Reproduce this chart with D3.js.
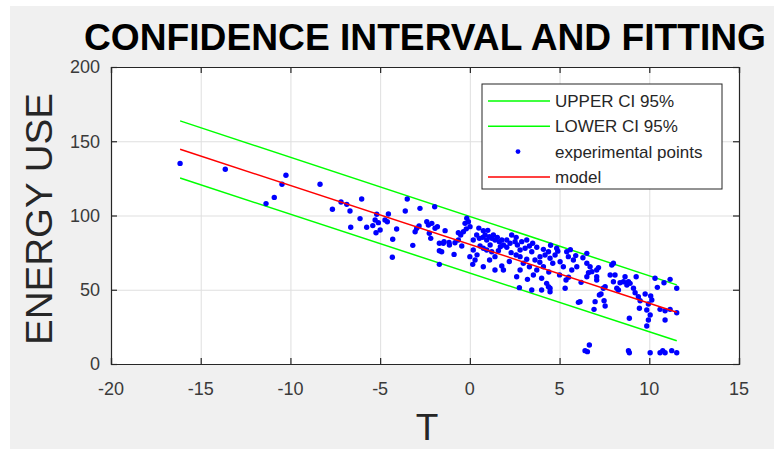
<!DOCTYPE html>
<html>
<head>
<meta charset="utf-8">
<script src="https://cdnjs.cloudflare.com/ajax/libs/d3/7.8.5/d3.min.js"></script>
<style>
  html, body { margin: 0; padding: 0; background: #ffffff; }
  svg { display: block; font-family: "Liberation Sans", Arial, sans-serif; }
</style>
</head>
<body>
<svg id="chart" width="774" height="449"></svg>
<script>
// ---- data ----
var tempT = [
  -16.15, -13.63, -10.25, -10.47, -10.9, -11.36, -8.35,
  -7.18, -6.86, -6.03, -7.66, -6.68, -6.12, -6.64, -5.75, -5.41, -5.19, -5.28, -5.1, -4.73,
  -4.54, -4.6, -5.0, -5.23, -4.08, -4.3, -4.32, -3.49, -3.6, -2.78, -1.96, -3.18, -3.05,
  -2.96, -2.83, -2.4, -2.31, -2.12, -1.94, -1.81, -2.26, -2.18, -1.38, -1.7, -1.48, -1.7,
  -1.16, -0.88, -1.7, -0.64, -0.64,
  -0.17, -0.08, -0.27, -0.36, -0.51, -0.83, -1.14, -1.44, -1.57, -0.45, 0.0, 0.19, 0.19,
  0.38, 0.53, 0.72, 0.85, 0.94, 1.09, 1.22, 1.31, 1.4, 1.53, 1.64, 1.78, 1.87, 1.13, 0.94,
  0.75, 0.57, 1.22, 1.4, 1.59, 2.06, 2.24, 2.52, 2.65, 2.89, 3.17, 2.8, 2.58, 3.08, 3.32,
  3.45, 3.73, 2.8, 3.17, 2.98, 3.32, 3.63, 3.91, 4.1, 4.19, 4.38, 4.47, 4.75, 4.84, 4.62,
  4.1, 3.73, 3.54, 3.21, 2.8, 2.61, 1.87, 1.78, 1.4, 0.75, 0.16, 0.29, 4.0, 4.28, 4.47,
  4.47, 2.76, 5.31, 5.4, 5.49, 5.03, 5.21, 5.77, 5.96, 5.68, 6.52, 6.52, 6.7, 6.8, 7.07,
  7.07, 0.01, 0.75,
  8.0, 7.91, 7.17, 6.61, 6.52, 7.07, 7.82, 8.09, 8.0, 8.37, 8.65, 8.56, 8.84, 8.75, 9.27,
  8.93, 9.12, 9.21, 7.54, 7.44, 8.19, 8.28, 7.31, 6.98, 7.48, 7.54, 6.92, 6.14, 9.39, 9.49,
  9.45, 9.77, 10.08, 10.14, 9.95, 9.86, 10.05, 9.95, 9.86, 8.89, 10.32, 10.45, 10.82, 11.16,
  11.53, 10.6, 10.88, 11.16, 11.53, 10.88, 6.42, 6.66, 6.55, 8.84, 8.89, 10.05, 10.6, 10.75,
  10.88, 11.25, 11.53,
  3.45, 4.0, 4.38, 5.36, 6.05, 7.22,
  2.33, 2.58, 2.06, 3.5, 4.5, 4.9, 5.6, 5.9, 6.3, 1.0, 0.5, -0.2, 1.7, 2.3, 3.9,
  4.4, 5.0, 5.5, 6.2, 2.2, 1.1, 0.4
];
var energyUse = [
  135.1, 131.1, 127.1, 121, 112.2, 108, 121,
  109.1, 107.5, 111.1, 104.2, 103, 97.9, 92.1, 92.1, 93.2, 100.8, 97, 95.2, 97,
  101, 95.8, 90.2, 88.4, 90.9, 84, 71.9, 111.1, 103, 104.8, 105.9, 79.9, 89.1,
  91.4, 92.9, 95.8, 93.6, 94.7, 91.4, 92.5, 88, 84.6, 89.8, 81.3, 81.3, 76.3,
  81.9, 73.8, 67.1, 83.5, 88.4,
  98.1, 95.8, 94.7, 89.1, 86.9, 81.7, 80.1, 82.4, 75.6, 79.5, 72.3, 76.8, 83.5,
  86.9, 84.6, 85.3, 86.9, 83.5, 85.7, 84.6, 86.9, 83.5, 85.3, 82.4, 83.5, 80.1, 80.1, 76.8,
  77.9, 79.5, 75.6, 72.3, 76.3, 78.6, 81.3, 82.4, 80.1, 82.4, 83.5, 76.8, 73.4, 77.9, 79.5,
  75.6, 78.6, 72.3, 70.5, 67.8, 65.5, 70, 72.3, 77.2, 73.4, 75.6, 71.2, 73.4, 77.9, 67.8,
  65.5, 63.3, 59.9, 57, 63.3, 58.8, 63.3, 66, 63.3, 65.5, 67.1, 70, 57.7, 54.3, 51,
  48.7, 51.4, 51, 75.6, 72.3, 68.9, 65.5, 70, 65.5, 63.3, 74.5, 67.8, 65.5, 62.2, 63.3,
  58.8, 92.5, 89.8,
  67.8, 66.7, 64.9, 61.5, 58.8, 56.6, 59.9, 59.9, 55.4, 54.7, 58.8, 55.4, 55.4, 53.2, 58.8,
  54.3, 51, 48, 52.1, 51, 51, 49.8, 47.1, 42, 42.6, 39.1, 36.8, 42, 45.3, 42.6,
  37.5, 47.1, 45.8, 43.1, 40.4, 36.4, 33, 29.6, 25.6, 30.8, 57.7, 51.6, 54.7, 57,
  51, 36.8, 35.9, 36.8, 34.5, 29.6, 9, 12.8, 8.3, 9, 7.6, 7.6, 7.6, 9,
  7.6, 9, 7.6,
  49.8, 49.8, 52.1, 56.6, 41.5, 46.5,
  86.9, 85.3, 83.5, 81.3, 80, 76, 77, 73, 71.5, 90, 91.5, 91, 79, 75, 68.5,
  62, 60, 58.5, 55, 69, 70, 73.5
];

// fitted line and 95% band, end points read at the first and last T
var fitT = [-16.15, 11.53];
var modelY = [144.6, 34.8];
var upperCI = [163.7, 53.3];
var lowerCI = [125.2, 15.6];

var xTicks = [-20, -15, -10, -5, 0, 5, 10, 15];
var yTicks = [0, 50, 100, 150, 200];

var legendLabels = ["UPPER CI 95%", "LOWER CI 95%", "experimental points", "model"];

// ---- layout ----
var W = 774, H = 449;
var plot = { left: 111, top: 67, right: 739, bottom: 364 };
var axisColor = "#262626";

var svg = d3.select("#chart");

// figure background (MATLAB grey), with the thin white edge at top/left
svg.append("rect")
    .attr("x", 0).attr("y", 0).attr("width", W).attr("height", H)
    .attr("fill", "#ffffff");
svg.append("rect")
    .attr("x", 10).attr("y", 6).attr("width", W - 10).attr("height", H - 6)
    .attr("fill", "#f0f0f0");

var xScale = d3.scaleLinear().domain([-20, 15]).range([plot.left, plot.right]);
var yScale = d3.scaleLinear().domain([0, 200]).range([plot.bottom, plot.top]);

// axes box
svg.append("rect")
    .attr("x", plot.left).attr("y", plot.top)
    .attr("width", plot.right - plot.left).attr("height", plot.bottom - plot.top)
    .attr("fill", "#ffffff");

// grid
var grid = svg.append("g").attr("class", "grid");
grid.append("g")
    .attr("transform", "translate(0," + plot.bottom + ")")
    .call(d3.axisBottom(xScale).tickValues(xTicks).tickSize(-(plot.bottom - plot.top)).tickFormat(""))
    .call(g => g.select(".domain").remove());
grid.append("g")
    .attr("transform", "translate(" + plot.left + ",0)")
    .call(d3.axisLeft(yScale).tickValues(yTicks).tickSize(-(plot.right - plot.left)).tickFormat(""))
    .call(g => g.select(".domain").remove());
grid.selectAll("line").attr("stroke", "#dfdfdf").attr("stroke-width", 1);

// lines + points, in legend order
function lineOf(vals) {
    return d3.line()
        .x(function (d, i) { return xScale(fitT[i]); })
        .y(function (d) { return yScale(d); })(vals);
}

var series = svg.append("g").attr("class", "series");
series.append("path").attr("d", lineOf(upperCI))
    .attr("fill", "none").attr("stroke", "#00ff00").attr("stroke-width", 1.5);
series.append("path").attr("d", lineOf(lowerCI))
    .attr("fill", "none").attr("stroke", "#00ff00").attr("stroke-width", 1.5);

series.append("g").selectAll("circle")
    .data(tempT)
    .enter()
    .append("circle")
    .attr("cx", function (d) { return xScale(d); })
    .attr("cy", function (d, i) { return yScale(energyUse[i]); })
    .attr("r", 2.7)
    .attr("fill", "#0000ff");

series.append("path").attr("d", lineOf(modelY))
    .attr("fill", "none").attr("stroke", "#ff0000").attr("stroke-width", 1.5);

// axis frame with inward ticks on all four sides
var tickLen = 6;
var frame = svg.append("g").attr("class", "frame");
frame.append("g")
    .attr("transform", "translate(0," + plot.bottom + ")")
    .call(d3.axisBottom(xScale).tickValues(xTicks).tickSize(-tickLen).tickFormat(""));
frame.append("g")
    .attr("transform", "translate(0," + plot.top + ")")
    .call(d3.axisTop(xScale).tickValues(xTicks).tickSize(-tickLen).tickFormat(""));
frame.append("g")
    .attr("transform", "translate(" + plot.left + ",0)")
    .call(d3.axisLeft(yScale).tickValues(yTicks).tickSize(-tickLen).tickFormat(""));
frame.append("g")
    .attr("transform", "translate(" + plot.right + ",0)")
    .call(d3.axisRight(yScale).tickValues(yTicks).tickSize(-tickLen).tickFormat(""));
frame.selectAll(".domain").attr("stroke", axisColor).attr("stroke-width", 1.2);
frame.selectAll("line").attr("stroke", axisColor).attr("stroke-width", 1.2);

// tick labels
svg.append("g").selectAll("text")
    .data(xTicks)
    .enter()
    .append("text")
    .attr("x", function (d) { return xScale(d); })
    .attr("y", 395)
    .attr("text-anchor", "middle")
    .attr("font-size", 18)
    .attr("fill", "#3a3a3a")
    .text(function (d) { return d; });

svg.append("g").selectAll("text")
    .data(yTicks)
    .enter()
    .append("text")
    .attr("x", 100)
    .attr("y", function (d) { return yScale(d); })
    .attr("dy", "0.36em")
    .attr("text-anchor", "end")
    .attr("font-size", 18)
    .attr("fill", "#3a3a3a")
    .text(function (d) { return d; });

// title + axis labels
svg.append("text")
    .attr("x", 425).attr("y", 50)
    .attr("text-anchor", "middle")
    .attr("font-size", 36).attr("font-weight", "bold")
    .attr("textLength", 682).attr("lengthAdjust", "spacingAndGlyphs")
    .attr("fill", "#000000")
    .text("CONFIDENCE INTERVAL AND FITTING");

svg.append("text")
    .attr("transform", "translate(52,219) rotate(-90)")
    .attr("text-anchor", "middle")
    .attr("font-size", 37)
    .attr("textLength", 252).attr("lengthAdjust", "spacingAndGlyphs")
    .attr("fill", "#262626")
    .text("ENERGY USE");

svg.append("text")
    .attr("x", 427).attr("y", 440)
    .attr("text-anchor", "middle")
    .attr("font-size", 37)
    .attr("fill", "#262626")
    .text("T");

// legend
var legend = svg.append("g").attr("class", "legend");
legend.append("rect")
    .attr("x", 482).attr("y", 84).attr("width", 240).attr("height", 105)
    .attr("fill", "#ffffff").attr("stroke", axisColor).attr("stroke-width", 1);

var legendColors = ["#00ff00", "#00ff00", "#0000ff", "#ff0000"];
legendLabels.forEach(function (label, i) {
    var cy = 101 + i * 25.3;
    if (i === 2) {
        legend.append("circle").attr("cx", 518).attr("cy", cy).attr("r", 2.4).attr("fill", legendColors[i]);
    } else {
        legend.append("line")
            .attr("x1", 488).attr("x2", 550).attr("y1", cy).attr("y2", cy)
            .attr("stroke", legendColors[i]).attr("stroke-width", 1.5);
    }
    legend.append("text")
        .attr("x", 555).attr("y", cy)
        .attr("dy", "0.36em")
        .attr("font-size", 17)
        .attr("fill", "#262626")
        .text(label);
});
</script>
</body>
</html>
